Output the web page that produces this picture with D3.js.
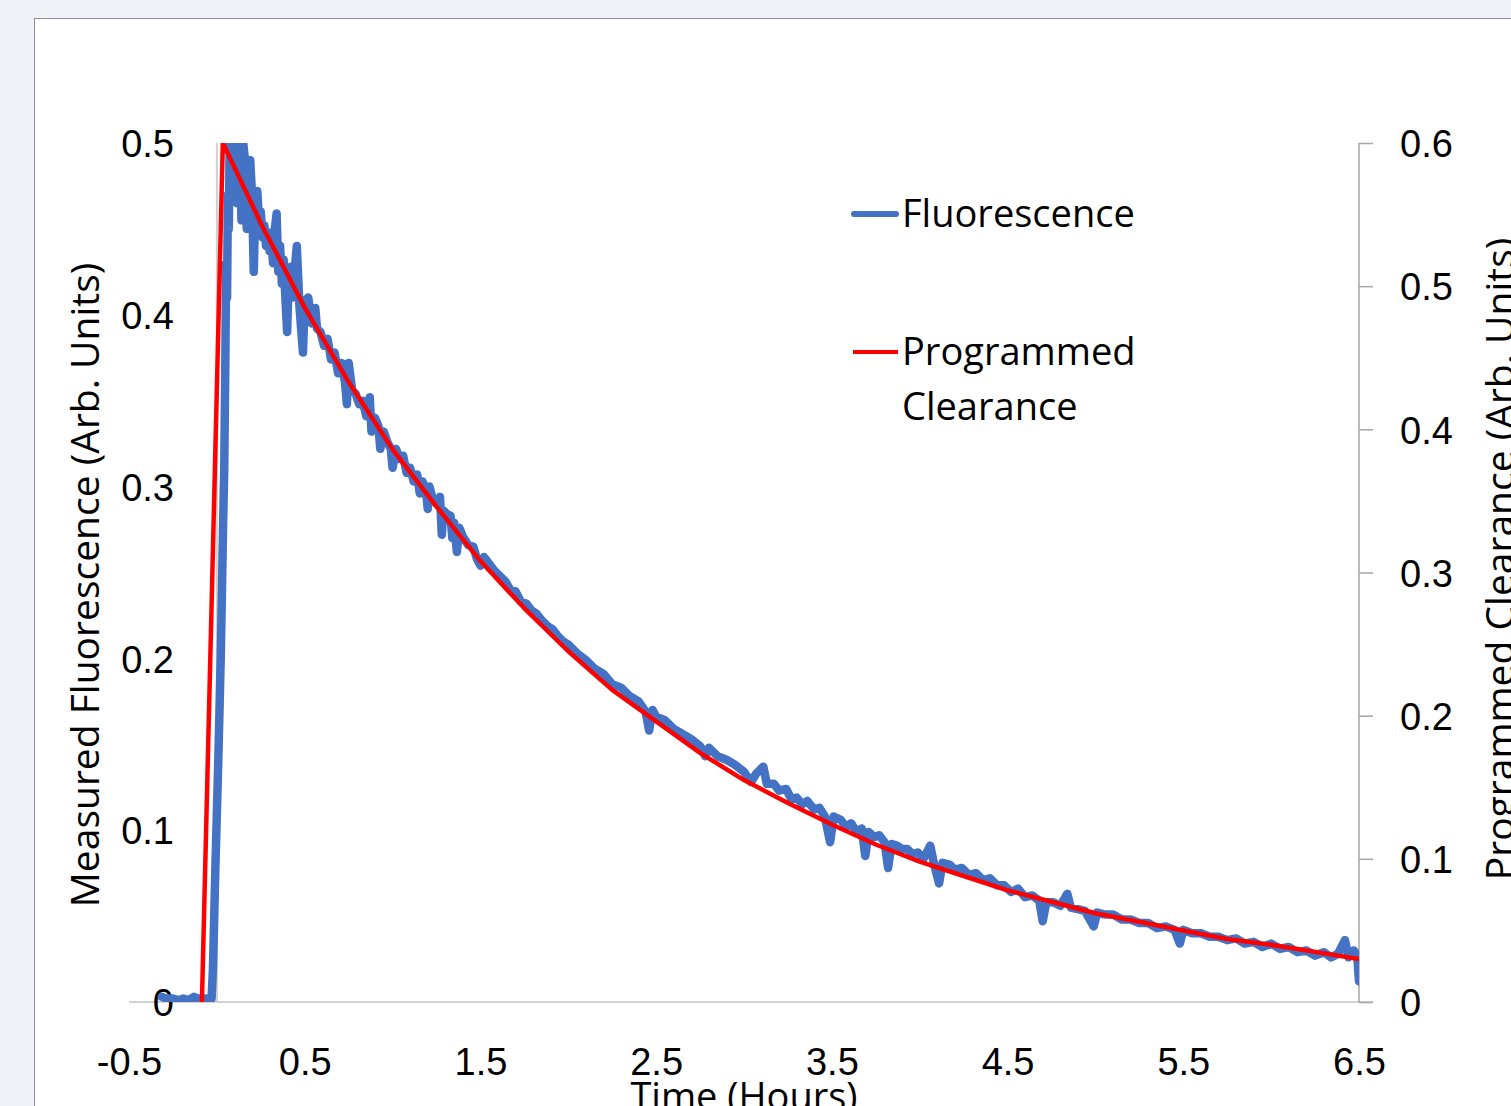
<!DOCTYPE html>
<html>
<head>
<meta charset="utf-8">
<script src="https://cdn.jsdelivr.net/npm/d3@7"></script>
<style>
  html, body { margin: 0; padding: 0; background: #f0f2f7; overflow: hidden; }
  svg { display: block; font-family: "Open Sans", "Noto Sans", sans-serif; }
</style>
</head>
<body>
<svg id="chart" width="1511" height="1106"></svg>
<script>

// tick values for the three axes
var timeTicks  = [-0.5, 0.5, 1.5, 2.5, 3.5, 4.5, 5.5, 6.5],
    leftTicks  = [0, 0.1, 0.2, 0.3, 0.4, 0.5],
    rightTicks = [0, 0.1, 0.2, 0.3, 0.4, 0.5, 0.6];

var seriesNames = ["Fluorescence", "Programmed Clearance"];

// programmed clearance (right axis)
var clearanceTime  = [-0.085, 0.034, 0.25, 0.5, 0.75, 1.0, 1.25, 1.5, 1.75, 2.0, 2.25, 2.5, 2.75, 3.0,
                      3.25, 3.5, 3.75, 4.0, 4.25, 4.5, 4.75, 5.0, 5.25, 5.5, 5.75, 6.0, 6.25, 6.5];
var clearanceValue = [0, 0.6, 0.544, 0.485, 0.433, 0.386, 0.346, 0.308, 0.275, 0.245, 0.218, 0.196, 0.174, 0.155,
                      0.139, 0.124, 0.110, 0.098, 0.088, 0.078, 0.070, 0.062, 0.056, 0.050, 0.044, 0.040, 0.035, 0.030];

// measured fluorescence (left axis), [hours, value]
var fluorescence = [
  [-0.313, 0.003], [-0.29, 0.002], [-0.25, 0.002], [-0.22, 0.001], [-0.19, 0.002], [-0.16, 0.001],
  [-0.13, 0.003], [-0.11, 0.002], [-0.08, 0.002], [-0.05, 0.002], [-0.03, 0.002],
  [-0.022, 0.02], [-0.015, 0.05], [-0.008, 0.08], [0.0, 0.11], [0.008, 0.14], [0.015, 0.17],
  [0.022, 0.20], [0.03, 0.245], [0.036, 0.28], [0.042, 0.31], [0.048, 0.37], [0.053, 0.43],
  [0.058, 0.41], [0.063, 0.47], [0.068, 0.45], [0.074, 0.51],
  [0.08, 0.50], [0.09, 0.47], [0.10, 0.51], [0.11, 0.505], [0.115, 0.465], [0.12, 0.51], [0.13, 0.50],
  [0.14, 0.455], [0.15, 0.50], [0.16, 0.49], [0.17, 0.45], [0.18, 0.485], [0.19, 0.49], [0.20, 0.47],
  [0.21, 0.425], [0.22, 0.468], [0.23, 0.472], [0.24, 0.455], [0.25, 0.46], [0.26, 0.445], [0.27, 0.452],
  [0.28, 0.44], [0.29, 0.448], [0.30, 0.437], [0.31, 0.444], [0.32, 0.43], [0.33, 0.45], [0.34, 0.459],
  [0.35, 0.425], [0.36, 0.44], [0.37, 0.418], [0.38, 0.432], [0.39, 0.41], [0.40, 0.39], [0.41, 0.425],
  [0.42, 0.428], [0.43, 0.41], [0.44, 0.422], [0.455, 0.44], [0.47, 0.405], [0.49, 0.378], [0.50, 0.408],
  [0.52, 0.41], [0.54, 0.395], [0.56, 0.404], [0.57, 0.392], [0.59, 0.39], [0.61, 0.382], [0.63, 0.386],
  [0.65, 0.374], [0.67, 0.378], [0.69, 0.366], [0.71, 0.372], [0.73, 0.36], [0.74, 0.348], [0.75, 0.372],
  [0.77, 0.356], [0.79, 0.354], [0.81, 0.348], [0.83, 0.350], [0.85, 0.341], [0.87, 0.352], [0.88, 0.332],
  [0.90, 0.34], [0.92, 0.335], [0.93, 0.322], [0.95, 0.332], [0.97, 0.326], [0.99, 0.322], [1.00, 0.311],
  [1.02, 0.322], [1.04, 0.316], [1.06, 0.318], [1.08, 0.308], [1.10, 0.311], [1.12, 0.303], [1.14, 0.307],
  [1.155, 0.296], [1.17, 0.303], [1.19, 0.298], [1.20, 0.287], [1.21, 0.300], [1.23, 0.292], [1.25, 0.290],
  [1.27, 0.294], [1.28, 0.272], [1.29, 0.286], [1.31, 0.284], [1.33, 0.283], [1.34, 0.270], [1.35, 0.279],
  [1.366, 0.262], [1.38, 0.276], [1.40, 0.271], [1.43, 0.266], [1.46, 0.265], [1.48, 0.258], [1.50, 0.254],
  [1.52, 0.259], [1.55, 0.255], [1.58, 0.251], [1.61, 0.248], [1.64, 0.245], [1.67, 0.240], [1.70, 0.239],
  [1.73, 0.233], [1.76, 0.232], [1.79, 0.228], [1.82, 0.226], [1.85, 0.222], [1.88, 0.219], [1.91, 0.217],
  [1.94, 0.213], [1.97, 0.210], [2.00, 0.208], [2.05, 0.203], [2.10, 0.199], [2.15, 0.194], [2.20, 0.191],
  [2.25, 0.185], [2.30, 0.183], [2.35, 0.178], [2.40, 0.175], [2.44, 0.169], [2.46, 0.158], [2.48, 0.170],
  [2.50, 0.166], [2.55, 0.164], [2.60, 0.159], [2.65, 0.156], [2.70, 0.153], [2.75, 0.149], [2.78, 0.143],
  [2.80, 0.148], [2.85, 0.143], [2.90, 0.141], [2.95, 0.138], [3.00, 0.134], [3.04, 0.128], [3.07, 0.133],
  [3.11, 0.137], [3.13, 0.127], [3.17, 0.127], [3.20, 0.123], [3.24, 0.124], [3.27, 0.118], [3.30, 0.119],
  [3.33, 0.115], [3.36, 0.117], [3.40, 0.112], [3.43, 0.113], [3.46, 0.108], [3.49, 0.093], [3.51, 0.108],
  [3.55, 0.106], [3.58, 0.102], [3.61, 0.104], [3.64, 0.099], [3.67, 0.101], [3.69, 0.085], [3.71, 0.099],
  [3.74, 0.096], [3.77, 0.097], [3.80, 0.093], [3.82, 0.078], [3.84, 0.092], [3.87, 0.091], [3.90, 0.089],
  [3.93, 0.089], [3.96, 0.086], [3.99, 0.087], [4.02, 0.083], [4.06, 0.091], [4.08, 0.081], [4.11, 0.069],
  [4.13, 0.081], [4.17, 0.080], [4.20, 0.077], [4.24, 0.078], [4.28, 0.074], [4.32, 0.075], [4.36, 0.071],
  [4.40, 0.072], [4.44, 0.068], [4.48, 0.068], [4.52, 0.064], [4.56, 0.066], [4.60, 0.061], [4.64, 0.062],
  [4.68, 0.059], [4.70, 0.047], [4.72, 0.058], [4.76, 0.058], [4.80, 0.056], [4.84, 0.063], [4.86, 0.055],
  [4.90, 0.054], [4.94, 0.053], [4.99, 0.044], [5.01, 0.052], [5.05, 0.051], [5.10, 0.051], [5.15, 0.048],
  [5.20, 0.048], [5.25, 0.046], [5.30, 0.046], [5.35, 0.043], [5.40, 0.044], [5.45, 0.042], [5.48, 0.034],
  [5.50, 0.042], [5.55, 0.040], [5.60, 0.040], [5.65, 0.038], [5.70, 0.038], [5.75, 0.036], [5.80, 0.037],
  [5.85, 0.034], [5.90, 0.035], [5.95, 0.032], [6.00, 0.034], [6.05, 0.031], [6.10, 0.032], [6.15, 0.029],
  [6.20, 0.030], [6.25, 0.027], [6.30, 0.029], [6.34, 0.026], [6.38, 0.028], [6.42, 0.036], [6.44, 0.026],
  [6.47, 0.030], [6.49, 0.027], [6.50, 0.012]
];

var svg = d3.select("#chart");

var plot = {left: 129, right: 1359, top: 143, bottom: 1002};

var x  = d3.scaleLinear().domain([-0.5, 6.5]).range([plot.left, plot.right]),
    yL = d3.scaleLinear().domain([0, 0.5]).range([plot.bottom, plot.top]),
    yR = d3.scaleLinear().domain([0, 0.6]).range([plot.bottom, plot.top]);

var fmt = function(d) { return d === 0 ? "0" : d.toFixed(1); };

// white chart area (runs off the right and bottom edges)
svg.append("rect")
   .attr("x", 34.5).attr("y", 18.5)
   .attr("width", 1600).attr("height", 1200)
   .style("fill", "#fff").style("stroke", "#8f8f8f").style("stroke-width", 1);

svg.append("clipPath").attr("id", "clip")
   .append("rect")
   .attr("x", plot.left).attr("y", plot.top)
   .attr("width", plot.right - plot.left).attr("height", plot.bottom - plot.top);

// vertical axis line sits at time zero
svg.append("line")
   .attr("x1", x(0)).attr("x2", x(0))
   .attr("y1", plot.top).attr("y2", plot.bottom)
   .style("stroke", "#d0d0d0").style("stroke-width", 2);

// x axis
var gx = svg.append("g")
   .attr("transform", "translate(0," + plot.bottom + ")")
   .call(d3.axisBottom(x).tickValues(timeTicks).tickSize(0).tickFormat(fmt));
gx.select(".domain").remove();
gx.selectAll("text").attr("y", 73).attr("dy", 0)
  .style("font-size", "38px").style("fill", "#000");

svg.append("line")
   .attr("x1", plot.left).attr("x2", plot.right + 14)
   .attr("y1", plot.bottom).attr("y2", plot.bottom)
   .style("stroke", "#c4c4c4").style("stroke-width", 1.5);

// left axis (labels only)
var gl = svg.append("g")
   .attr("transform", "translate(174,0)")
   .call(d3.axisLeft(yL).tickValues(leftTicks).tickSize(0).tickPadding(0).tickFormat(fmt));
gl.select(".domain").remove();
gl.selectAll("text").attr("dy", "0.36em")
  .style("font-size", "38px").style("fill", "#000");

// right axis
var gr = svg.append("g")
   .attr("transform", "translate(" + plot.right + ",0)")
   .call(d3.axisRight(yR).tickValues(rightTicks).tickSize(14).tickPadding(27).tickFormat(fmt));
gr.select(".domain").attr("d", "M0," + plot.top + "V" + plot.bottom)
  .style("stroke", "#a6a6a6").style("stroke-width", 1.5);
gr.selectAll("line").style("stroke", "#a6a6a6").style("stroke-width", 1.5);
gr.selectAll("text").attr("dy", "0.36em")
  .style("font-size", "38px").style("fill", "#000");

// series
var fluorLine = d3.line()
    .x(function(d) { return x(d[0]); })
    .y(function(d) { return yL(d[1]); });

var clearanceLine = d3.line()
    .x(function(d) { return x(clearanceTime[d]); })
    .y(function(d) { return yR(clearanceValue[d]); });

var series = svg.append("g").attr("clip-path", "url(#clip)");

series.append("path")
   .datum(fluorescence)
   .attr("d", fluorLine)
   .style("fill", "none").style("stroke", "#4472c4").style("stroke-width", 8.5)
   .style("stroke-linejoin", "round").style("stroke-linecap", "round");

series.append("path")
   .datum(d3.range(clearanceTime.length))
   .attr("d", clearanceLine)
   .style("fill", "none").style("stroke", "#ff0000").style("stroke-width", 4.5)
   .style("stroke-linejoin", "round");

// axis titles
svg.append("text")
   .attr("transform", "translate(99,585) rotate(-90)")
   .attr("text-anchor", "middle")
   .style("font-size", "39px")
   .text("Measured Fluorescence (Arb. Units)");

svg.append("text")
   .attr("transform", "translate(1514,559) rotate(-90)")
   .attr("text-anchor", "middle")
   .style("font-size", "39px")
   .text("Programmed Clearance (Arb. Units)");

svg.append("text")
   .attr("x", (plot.left + plot.right) / 2).attr("y", 1110)
   .attr("text-anchor", "middle")
   .style("font-size", "38px")
   .text("Time (Hours)");

// legend
var legend = svg.append("g");

legend.append("line")
   .attr("x1", 854).attr("x2", 896).attr("y1", 214).attr("y2", 214)
   .style("stroke", "#4472c4").style("stroke-width", 6).style("stroke-linecap", "round");
legend.append("text").attr("x", 902).attr("y", 227)
   .style("font-size", "38px").text(seriesNames[0]);

legend.append("line")
   .attr("x1", 853).attr("x2", 898).attr("y1", 352).attr("y2", 352)
   .style("stroke", "#ff0000").style("stroke-width", 4);
var lt = legend.append("text").attr("x", 902).attr("y", 365).style("font-size", "38px");
lt.append("tspan").attr("x", 902).text(seriesNames[1].split(" ")[0]);
lt.append("tspan").attr("x", 902).attr("dy", 55).text(seriesNames[1].split(" ")[1]);

</script>
</body>
</html>
